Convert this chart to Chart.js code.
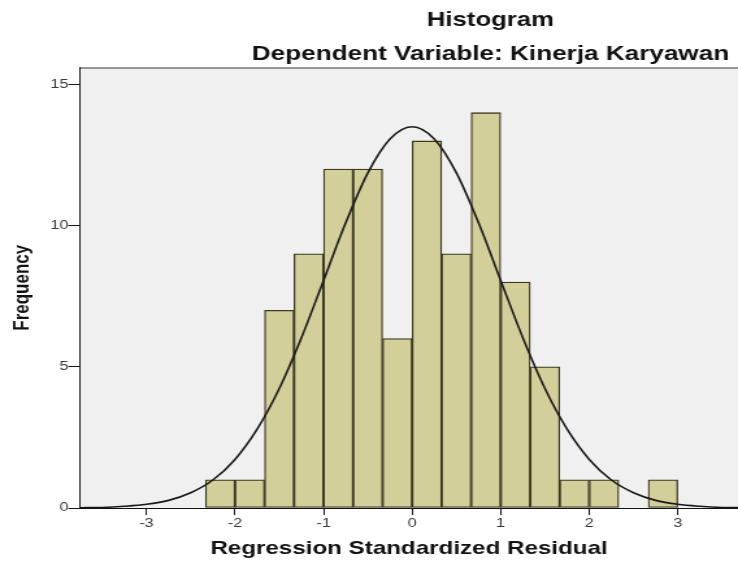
<!DOCTYPE html>
<html>
<head>
<meta charset="utf-8">
<script src="https://cdn.jsdelivr.net/npm/chart.js@4"></script>
<style>
  body { margin: 0; background: #ffffff; }
</style>
</head>
<body>
<!-- the source image is stretched sideways, so the canvas is drawn narrow and widened by its style -->
<canvas id="histChart" width="568" height="567" style="width:738px;height:567px;display:block"></canvas>
<script>
// bins of width 1/3, centres and counts
const binCenters = [-2.167, -1.833, -1.5, -1.167, -0.833, -0.5, -0.167, 0.167, 0.5, 0.833, 1.167, 1.5, 1.833, 2.167, 2.833];
const binCounts = [1, 1, 7, 9, 12, 12, 6, 13, 9, 14, 8, 5, 1, 1, 1];

// normal curve
const curveX = [-3.75, -3.5, -3.25, -3, -2.75, -2.5, -2.25, -2, -1.75, -1.5, -1.25, -1, -0.75, -0.5, -0.25, 0,
    0.25, 0.5, 0.75, 1, 1.25, 1.5, 1.75, 2, 2.25, 2.5, 2.75, 3, 3.25, 3.5, 3.75];
const curveY = [0.01, 0.02, 0.06, 0.13, 0.27, 0.54, 0.99, 1.72, 2.79, 4.23, 6.03, 8.06, 10.1, 11.87, 13.07, 13.5,
    13.07, 11.87, 10.1, 8.06, 6.03, 4.23, 2.79, 1.72, 0.99, 0.54, 0.27, 0.13, 0.06, 0.02, 0.01];

const xTicks = [-3, -2, -1, 0, 1, 2, 3];
const yTicks = [0, 5, 10, 15];

const titleText = 'Histogram';
const subtitleText = 'Dependent Variable: Kinerja Karyawan';
const fontFamily = '"Liberation Sans", Arial, sans-serif';

document.addEventListener("DOMContentLoaded", function () {
    const plotFrame = {
        id: 'plotFrame',
        beforeDraw(chart) {
            const { ctx, chartArea: a } = chart;
            ctx.save();
            ctx.fillStyle = '#f0f0f0';
            ctx.fillRect(a.left, a.top, a.right - a.left, a.bottom - a.top);
            ctx.strokeStyle = '#3a3a3a';
            ctx.lineWidth = 1;
            ctx.beginPath();
            ctx.moveTo(a.left, a.top + 0.5);
            ctx.lineTo(a.right, a.top + 0.5);
            ctx.stroke();
            ctx.restore();
        }
    };

    const headings = {
        id: 'headings',
        afterDraw(chart) {
            const ctx = chart.ctx;
            ctx.save();
            ctx.fillStyle = '#111111';
            ctx.textAlign = 'center';
            ctx.textBaseline = 'alphabetic';
            ctx.font = 'bold 19.8px ' + fontFamily;
            ctx.fillText(titleText, 377.5, 26);
            ctx.font = 'bold 20.1px ' + fontFamily;
            ctx.fillText(subtitleText, 377.5, 60);
            ctx.restore();
        }
    };

    const ctx = document.getElementById('histChart').getContext('2d');
    const chart = new Chart(ctx, {
        type: 'bar',
        data: {
            datasets: [{
                type: 'line',
                label: 'Normal',
                data: curveX.map((x, i) => ({ x: x, y: curveY[i] })),
                borderColor: '#1a1a1a',
                borderWidth: 1.6,
                pointRadius: 0,
                fill: false,
                cubicInterpolationMode: 'monotone',
                order: 0
            }, {
                type: 'bar',
                label: 'Frequency',
                data: binCenters.map((x, i) => ({ x: x, y: binCounts[i] })),
                backgroundColor: '#d3cf9a',
                borderColor: '#3b3820',
                borderWidth: 1.3,
                borderSkipped: false,
                barPercentage: 1,
                categoryPercentage: 1,
                order: 1
            }]
        },
        options: {
            responsive: false,
            animation: false,
            layout: { padding: { top: 67.5, left: 0, right: 0, bottom: 0 } },
            plugins: {
                legend: { display: false },
                tooltip: { enabled: false }
            },
            scales: {
                x: {
                    type: 'linear',
                    offset: false,
                    min: -3.75,
                    max: 3.68,
                    afterBuildTicks: s => { s.ticks = xTicks.map(v => ({ value: v })); },
                    afterFit: s => { s.height = 59; },
                    grid: { offset: false, drawOnChartArea: false, drawTicks: true, tickLength: 7, color: '#111111' },
                    border: { display: true, color: '#111111', width: 1 },
                    ticks: {
                        padding: 1,
                        color: '#3a3a3a',
                        font: { family: fontFamily, size: 12.5 },
                        maxRotation: 0
                    },
                    title: {
                        display: true,
                        text: 'Regression Standardized Residual',
                        color: '#111111',
                        font: { family: fontFamily, size: 18.6, weight: 'bold' },
                        padding: { top: 0, bottom: 7 }
                    }
                },
                y: {
                    min: 0,
                    max: 15.6,
                    afterBuildTicks: s => { s.ticks = yTicks.map(v => ({ value: v })); },
                    afterFit: s => { s.width = 61.6; },
                    grid: { drawOnChartArea: false, drawTicks: true, tickLength: 9, color: '#111111' },
                    border: { display: true, color: '#111111', width: 1 },
                    ticks: {
                        padding: 0,
                        color: '#3a3a3a',
                        font: { family: fontFamily, size: 12.5 }
                    },
                    title: {
                        display: true,
                        text: 'Frequency',
                        color: '#111111',
                        font: { family: fontFamily, size: 17, weight: 'bold' },
                        padding: { top: 7, bottom: 0 }
                    }
                }
            }
        },
        plugins: [plotFrame, headings]
    });
});
</script>
</body>
</html>
